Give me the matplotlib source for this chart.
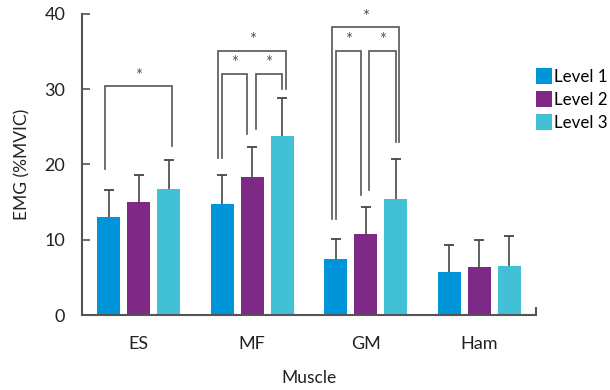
import matplotlib
matplotlib.use("Agg")
import matplotlib.pyplot as plt
import numpy as np

plt.rcParams['font.family'] = ['Lato', 'DejaVu Sans']

muscles = ["ES", "MF", "GM", "Ham"]
levels = ["Level 1", "Level 2", "Level 3"]
means = {
    "Level 1": [13.0, 14.75, 7.45, 5.75],
    "Level 2": [15.0, 18.35, 10.8, 6.4],
    "Level 3": [16.75, 23.7, 15.4, 6.5],
}
sds = {
    "Level 1": [3.65, 3.85, 2.65, 3.55],
    "Level 2": [3.6, 3.95, 3.6, 3.5],
    "Level 3": [3.8, 5.15, 5.3, 3.95],
}
colors = ["#0095D8", "#7E2985", "#41C0D6"]

# significance brackets: (muscle index, level a, level b, top, left leg bottom, right leg bottom)
brackets = [
    (0, 0, 2, 30.4, 19.4, 22.5),
    (1, 0, 2, 35.1, 20.9, 30.0),
    (1, 0, 1, 32.05, 20.9, 24.0),
    (1, 1, 2, 32.05, 24.7, 30.0),
    (2, 0, 2, 38.2, 12.8, 23.0),
    (2, 0, 1, 35.1, 12.8, 15.95),
    (2, 1, 2, 35.1, 16.6, 23.0),
]

fig = plt.figure(figsize=(6.1, 3.9), dpi=100)
ax = fig.add_axes([0.1344, 0.1923, 0.7443, 0.7726])

x = np.arange(len(muscles))
step = 0.264
width = 0.203
handles = []
for i, lv in enumerate(levels):
    xi = x + (i - 1) * step
    m = np.array(means[lv])
    s = np.array(sds[lv])
    b = ax.bar(xi, m, width, color=colors[i], label=lv, zorder=2)
    ax.vlines(xi, m, m + s, color='#555555', lw=1.3, zorder=1)
    ax.plot(xi, m + s, ls='none', marker='_', markersize=7, mew=1.3,
            color='#444444', zorder=1)
    handles.append(b)

bc = '#555555'
for g, a, bb, top, lb, rb in brackets:
    xa = g + (a - 1) * step
    xb = g + (bb - 1) * step
    if a == 0 and bb == 2:
        xa -= 0.035
        xb += 0.032
    elif a == 0 and bb == 1:
        xb -= 0.045
    else:
        xa += 0.03
    ax.plot([xa, xa, xb, xb], [lb, top, top, rb], color=bc, lw=1.2,
            solid_joinstyle='miter', clip_on=False, zorder=3)
    ax.text((xa + xb) / 2, top + 0.3, '*', ha='center', va='bottom',
            fontsize=12, color='#555555')

ax.set_xlim(-0.5, 3.5)
ax.set_ylim(0, 40)
ax.set_yticks([0, 10, 20, 30, 40])
ax.set_xticks(x)
ax.set_xticklabels(muscles)
ax.set_xticks([3.5], minor=True)
ax.tick_params(axis='x', which='major', length=0, pad=15, labelsize=13, colors='#222222')
ax.tick_params(axis='x', which='minor', direction='in', length=6, width=1.5, color='#555555')
ax.tick_params(axis='y', direction='in', length=6, width=1.2, pad=12, labelsize=13,
               colors='#222222', color='#555555')
for s in ['top', 'right']:
    ax.spines[s].set_visible(False)
for s in ['left', 'bottom']:
    ax.spines[s].set_color('#555555')
    ax.spines[s].set_linewidth(1.5)

ax.set_ylabel('EMG (%MVIC)', fontsize=12.5, color='#222222', labelpad=10)
ax.set_xlabel('Muscle', fontsize=12.5, color='#222222', labelpad=13)

fig.legend(handles=handles, labels=levels, loc='upper left',
           bbox_to_anchor=(0.878, 0.825), frameon=False, fontsize=12.2,
           handlelength=0.95, handleheight=1.05, handletextpad=0.15,
           labelspacing=0.38, borderaxespad=0, borderpad=0)

fig.savefig('out.png', dpi=100)
